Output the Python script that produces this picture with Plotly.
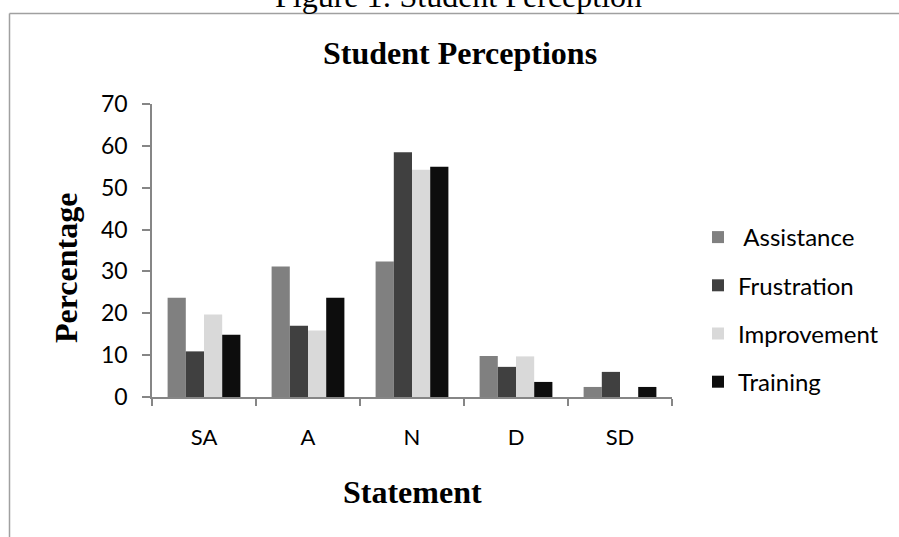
import plotly.graph_objects as go

categories = ["SA", "A", "N", "D", "SD"]
assistance = [23.7, 31.2, 32.4, 9.8, 2.4]
frustration = [10.9, 17.0, 58.5, 7.2, 6.0]
improvement = [19.7, 15.9, 54.3, 9.7, 0]
training = [14.9, 23.7, 55.0, 3.6, 2.4]

series_names = [" Assistance", "Frustration", "Improvement", "Training"]
series_values = [assistance, frustration, improvement, training]
series_colors = ["#808080", "#404040", "#d9d9d9", "#0d0d0d"]

W, H = 899, 537
L, R, T, B = 152, 227, 104, 140
PW, PH = W - L - R, H - T - B


def px(x):
    return (x - L) / PW


def py(y):
    return (H - B - y) / PH


fig = go.Figure()
for i, (name, vals, col) in enumerate(zip(series_names, series_values, series_colors)):
    fig.add_trace(go.Bar(
        x=categories, y=vals, name=name, marker_color=col,
        marker_line_width=0, legendgroup=str(i),
    ))

axis_gray = "#868686"
fig.update_layout(
    width=W, height=H,
    margin=dict(l=L, r=R, t=T, b=B, autoexpand=False),
    paper_bgcolor="white", plot_bgcolor="white",
    barmode="group", bargap=0.3, bargroupgap=0,
    font=dict(family="Lato", size=22, color="#000000"),
    showlegend=True,
    legend=dict(
        x=px(698), y=py(215), xanchor="left", yanchor="top",
        font=dict(family="Lato", size=24, color="#000000"),
        tracegroupgap=14, traceorder="grouped", bgcolor="rgba(0,0,0,0)",
    ),
    xaxis=dict(
        type="category", tickson="boundaries", ticks="outside", ticklen=7,
        tickcolor=axis_gray, tickwidth=1.5, showline=True, linecolor=axis_gray,
        linewidth=1.5, showgrid=False, ticklabelstandoff=20,
        tickfont=dict(family="Lato", size=22),
    ),
    yaxis=dict(
        range=[0, 70], dtick=10, ticks="outside", ticklen=8, tickcolor=axis_gray,
        tickwidth=1.5, showline=True, linecolor=axis_gray, linewidth=1.5,
        showgrid=False, zeroline=False, tickfont=dict(family="Lato", size=23),
        ticklabelstandoff=10,
    ),
)

serif = "Liberation Serif"
common = dict(xref="paper", yref="paper", showarrow=False,
              xanchor="center", yanchor="middle")
fig.add_annotation(text="<b>Student Perceptions</b>", x=px(460), y=py(53),
                   font=dict(family=serif, size=32, color="#000000"), **common)
fig.add_annotation(text="<b>Percentage</b>", x=px(66), y=py(268), textangle=-90,
                   font=dict(family=serif, size=32, color="#000000"), **common)
fig.add_annotation(text="<b>Statement</b>", x=px(412), y=py(492),
                   font=dict(family=serif, size=32, color="#000000"), **common)
fig.add_annotation(text="Figure 1: Student Perception", x=px(458), y=py(-4),
                   font=dict(family=serif, size=32, color="#000000"), **common)

border = "#a0a0a0"
fig.add_shape(type="line", xref="paper", yref="paper",
              x0=px(9.5), y0=py(13.5), x1=px(9.5), y1=py(H + 5),
              line=dict(color=border, width=1.5))
fig.add_shape(type="line", xref="paper", yref="paper",
              x0=px(9.5), y0=py(13.5), x1=px(W + 5), y1=py(13.5),
              line=dict(color=border, width=1.5))

fig.write_html(
    "out.html",
    config={"displayModeBar": False},
    post_script="document.body.style.margin='0';document.body.style.overflow='hidden';",
)
